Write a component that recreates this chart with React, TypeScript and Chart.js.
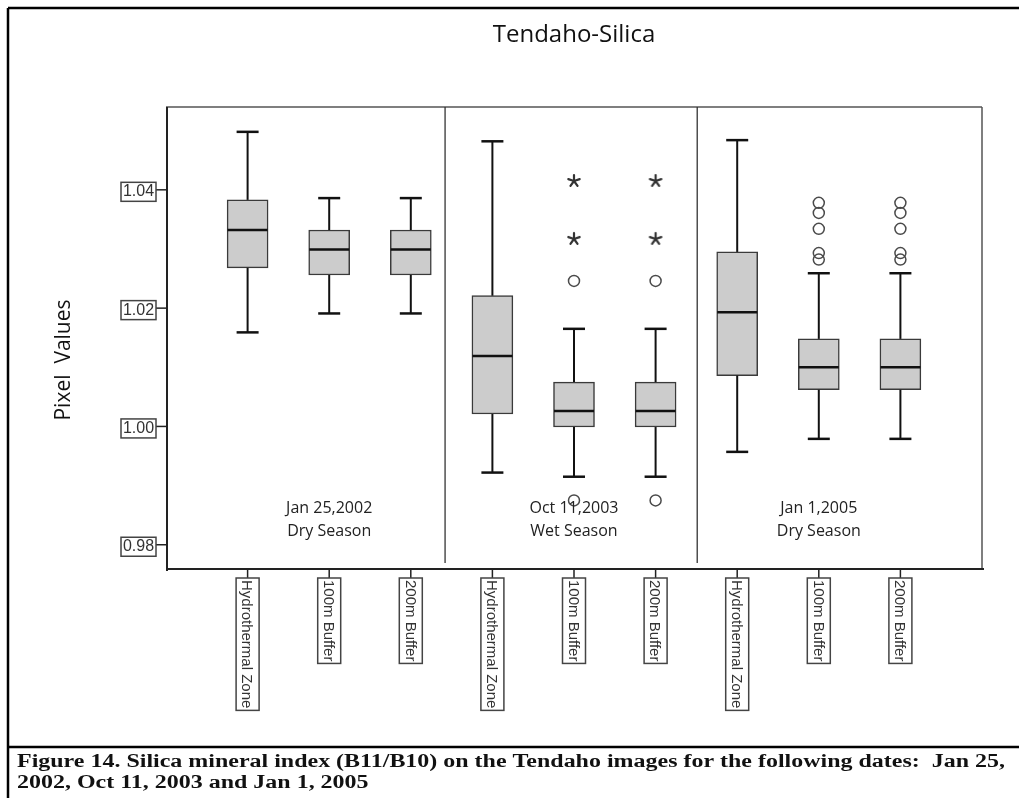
import React, { useEffect, useRef } from 'react';
import { Chart, registerables } from 'chart.js';

Chart.register(...registerables);

// Box-plot summaries per category (three dates x three zones)
const categories = [
  'Hydrothermal Zone', '100m Buffer', '200m Buffer',
  'Hydrothermal Zone', '100m Buffer', '200m Buffer',
  'Hydrothermal Zone', '100m Buffer', '200m Buffer',
];
const whiskerLow = [1.0159, 1.0191, 1.0191, 0.9922, 0.9915, 0.9915, 0.9957, 0.9979, 0.9979];
const quartile1 = [1.0268, 1.0256, 1.0256, 1.0021, 0.9999, 0.9999, 1.0086, 1.0062, 1.0062];
const medians = [1.0332, 1.0299, 1.0299, 1.0119, 1.0026, 1.0026, 1.0193, 1.01, 1.01];
const quartile3 = [1.0383, 1.0332, 1.0332, 1.0221, 1.0075, 1.0075, 1.0295, 1.0148, 1.0148];
const whiskerHigh = [1.0498, 1.0386, 1.0386, 1.0482, 1.0165, 1.0165, 1.0484, 1.0259, 1.0259];

// Outliers (circles) and extreme values (stars)
const circleOutliers = [
  [], [], [], [],
  [1.0246, 0.9875], [1.0246, 0.9875],
  [],
  [1.0378, 1.0361, 1.0334, 1.0293, 1.0282],
  [1.0378, 1.0361, 1.0334, 1.0293, 1.0282],
];
const starOutliers = [[], [], [], [], [1.0415, 1.0317], [1.0415, 1.0317], [], [], []];

const groupDates = ['Jan 25,2002', 'Oct 11,2003', 'Jan 1,2005'];
const groupSeasons = ['Dry Season', 'Wet Season', 'Dry Season'];
const groupDividers = [3.42, 6.51];
const yTicks = [0.98, 1.0, 1.02, 1.04];
const yTickLabels = ['0.98', '1.00', '1.02', '1.04'];

const chartTitle = 'Tendaho-Silica';
const yAxisTitle = 'Pixel  Values';
const captionLines = [
  'Figure 14. Silica mineral index (B11/B10) on the Tendaho images for the following dates:  Jan 25,',
  '2002, Oct 11, 2003 and Jan 1, 2005',
];

function makeStar(): HTMLCanvasElement {
  const c = document.createElement('canvas');
  c.width = 16;
  c.height = 16;
  const g = c.getContext('2d')!;
  g.strokeStyle = '#333';
  g.lineWidth = 2.2;
  g.lineCap = 'round';
  for (let k = 0; k < 5; k++) {
    const a = -Math.PI / 2 + (k * 2 * Math.PI) / 5;
    g.beginPath();
    g.moveTo(8, 8);
    g.lineTo(8 + Math.cos(a) * 6, 8 + Math.sin(a) * 6);
    g.stroke();
  }
  return c;
}

function line(ctx: CanvasRenderingContext2D, x1: number, y1: number, x2: number, y2: number) {
  ctx.beginPath();
  ctx.moveTo(x1, y1);
  ctx.lineTo(x2, y2);
  ctx.stroke();
}

const boxParts = {
  id: 'boxParts',
  afterDatasetsDraw(chart: any) {
    const { ctx } = chart;
    const xs = chart.scales.x;
    const ys = chart.scales.y;
    ctx.save();
    ctx.strokeStyle = '#111';
    categories.forEach((_, i) => {
      const cx = xs.getPixelForValue(i + 1);
      ctx.lineWidth = 2;
      line(ctx, cx, ys.getPixelForValue(quartile3[i]), cx, ys.getPixelForValue(whiskerHigh[i]));
      line(ctx, cx, ys.getPixelForValue(quartile1[i]), cx, ys.getPixelForValue(whiskerLow[i]));
      ctx.lineWidth = 2.5;
      const hi = ys.getPixelForValue(whiskerHigh[i]);
      const lo = ys.getPixelForValue(whiskerLow[i]);
      line(ctx, cx - 11, hi, cx + 11, hi);
      line(ctx, cx - 11, lo, cx + 11, lo);
      const md = ys.getPixelForValue(medians[i]);
      line(ctx, cx - 20, md, cx + 20, md);
    });
    ctx.restore();
  },
  afterDraw(chart: any) {
    const { ctx, chartArea } = chart;
    const xs = chart.scales.x;
    const ys = chart.scales.y;
    const { left, right, top, bottom } = chartArea;
    ctx.save();

    // Figure frame and caption rule
    ctx.strokeStyle = '#000';
    ctx.lineWidth = 2.5;
    line(ctx, 8, 8, 1019, 8);
    line(ctx, 8, 8, 8, 798);
    line(ctx, 8, 747, 1019, 747);

    // Plot frame
    ctx.strokeStyle = '#555';
    ctx.lineWidth = 1.5;
    line(ctx, left, top, right, top);
    line(ctx, right, top, right, bottom);
    ctx.strokeStyle = '#222';
    ctx.lineWidth = 2;
    line(ctx, left + 1, top, left + 1, bottom + 2);
    line(ctx, left, bottom, right + 2, bottom);

    // Group dividers
    ctx.strokeStyle = '#333';
    ctx.lineWidth = 1.3;
    groupDividers.forEach((v) => {
      const px = xs.getPixelForValue(v);
      line(ctx, px, top, px, bottom - 6);
    });

    // Y ticks with boxed labels
    ctx.font = '16px "Liberation Sans", Arial, sans-serif';
    ctx.textAlign = 'center';
    ctx.textBaseline = 'middle';
    yTicks.forEach((v, i) => {
      const py = ys.getPixelForValue(v);
      ctx.strokeStyle = '#222';
      ctx.lineWidth = 1.5;
      line(ctx, left - 10, py, left + 1, py);
      ctx.strokeStyle = '#444';
      ctx.strokeRect(121, py - 7.5, 35, 19);
      ctx.fillStyle = '#333';
      ctx.fillText(yTickLabels[i], 138.5, py + 2);
    });

    // X ticks with rotated boxed labels
    ctx.font = '15px "Liberation Sans", Arial, sans-serif';
    categories.forEach((label, i) => {
      const px = xs.getPixelForValue(i + 1);
      ctx.strokeStyle = '#222';
      ctx.lineWidth = 1.5;
      line(ctx, px, bottom, px, bottom + 9);
      const w = ctx.measureText(label).width + 4;
      ctx.strokeStyle = '#444';
      ctx.strokeRect(px - 11.5, bottom + 9, 23, w);
      ctx.save();
      ctx.translate(px, bottom + 9 + w / 2);
      ctx.rotate(Math.PI / 2);
      ctx.fillStyle = '#333';
      ctx.textAlign = 'center';
      ctx.textBaseline = 'middle';
      ctx.fillText(label, 0, 1);
      ctx.restore();
    });

    // Group labels inside the plot
    ctx.font = '16px "Open Sans", sans-serif';
    ctx.fillStyle = '#222';
    ctx.textAlign = 'center';
    ctx.textBaseline = 'middle';
    groupDates.forEach((d, g) => {
      const px = xs.getPixelForValue(g * 3 + 2);
      ctx.fillText(d, px, 508);
      ctx.fillText(groupSeasons[g], px, 531);
    });

    // Title
    ctx.font = '24px "Open Sans", sans-serif';
    ctx.fillStyle = '#111';
    ctx.fillText(chartTitle, (left + right) / 2, 35);

    // Y axis title
    ctx.save();
    ctx.translate(64, 360);
    ctx.rotate(-Math.PI / 2);
    ctx.font = '21px "Open Sans", sans-serif';
    ctx.fillText(yAxisTitle, 0, 0);
    ctx.restore();

    // Caption
    ctx.font = 'bold 18px "Liberation Serif", "Times New Roman", serif';
    ctx.fillStyle = '#111';
    ctx.textAlign = 'left';
    ctx.textBaseline = 'alphabetic';
    const w1 = ctx.measureText(captionLines[0]).width;
    const sx = 988 / w1;
    ctx.save();
    ctx.translate(17, 0);
    ctx.scale(sx, 1);
    ctx.fillText(captionLines[0], 0, 767);
    ctx.fillText(captionLines[1], 0, 788);
    ctx.restore();

    ctx.restore();
  },
};

export default function App() {
  const canvasRef = useRef<HTMLCanvasElement | null>(null);

  useEffect(() => {
    document.body.style.margin = '0';
    document.body.style.overflow = 'hidden';
    const canvas = canvasRef.current;
    if (!canvas) return;
    const star = makeStar();

    const boxData = categories.map((_, i) => ({ x: i + 1, y: [quartile1[i], quartile3[i]] }));
    const circleData: { x: number; y: number }[] = [];
    circleOutliers.forEach((vals, i) => vals.forEach((v) => circleData.push({ x: i + 1, y: v })));
    const starData: { x: number; y: number }[] = [];
    starOutliers.forEach((vals, i) => vals.forEach((v) => starData.push({ x: i + 1, y: v })));

    const chart = new Chart(canvas, {
      type: 'bar',
      data: {
        datasets: [
          {
            type: 'bar',
            data: boxData as any,
            backgroundColor: '#cccccc',
            borderColor: '#3a3a3a',
            borderWidth: 1.5,
            borderSkipped: false,
            barThickness: 41,
            grouped: false,
          } as any,
          {
            type: 'scatter',
            data: circleData,
            pointStyle: 'circle',
            pointRadius: 5.5,
            pointBorderColor: '#4a4a4a',
            pointBorderWidth: 1.5,
            pointBackgroundColor: 'rgba(0,0,0,0)',
          } as any,
          {
            type: 'scatter',
            data: starData,
            pointStyle: star,
            pointRadius: 7,
          } as any,
        ],
      },
      options: {
        responsive: false,
        animation: false,
        devicePixelRatio: 1,
        layout: { padding: { left: 166, top: 107, right: 37, bottom: 229 } },
        plugins: { legend: { display: false }, tooltip: { enabled: false }, title: { display: false } },
        scales: {
          x: { type: 'linear', min: 0, max: 10, offset: false, display: false },
          y: { type: 'linear', min: 0.9759, max: 1.054, display: false },
        },
      },
      plugins: [boxParts],
    });
    return () => chart.destroy();
  }, []);

  return <canvas ref={canvasRef} width={1019} height={798} style={{ display: 'block' }} />;
}
